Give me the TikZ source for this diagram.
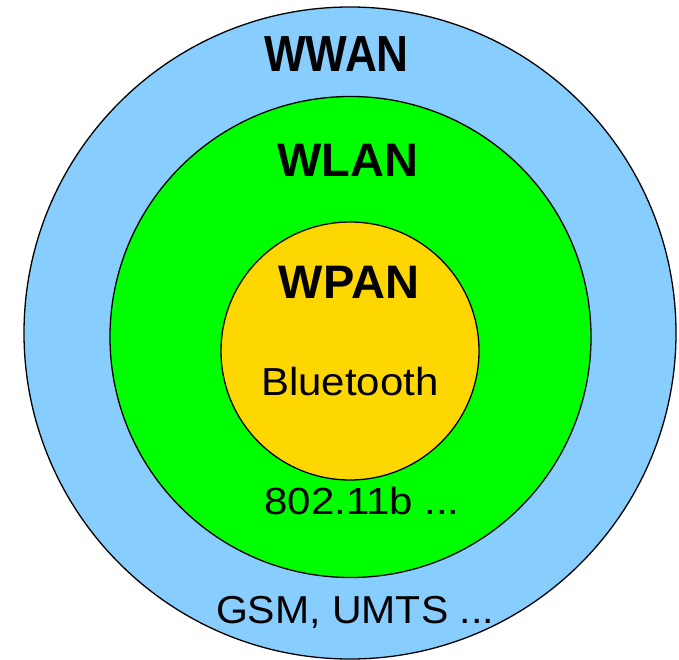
\documentclass[tikz,border=0pt]{standalone}
\usepackage{fontspec}
\setmainfont{Liberation Sans}
\definecolor{wwanblue}{RGB}{135,206,255}
\definecolor{wlangreen}{RGB}{0,255,0}
\definecolor{wpangold}{RGB}{255,215,0}
\tikzset{
  ring/.style={circle, draw=black, line width=1.3pt, inner sep=0pt},
  title/.style={anchor=base, inner sep=0pt, font=\fontsize{47}{47}\selectfont\bfseries},
  tech/.style={anchor=base, inner sep=0pt, font=\fontsize{42}{42}\selectfont}
}
\begin{document}
\begin{tikzpicture}[x=1pt, y=-1pt]
\useasboundingbox (0,0) rectangle (679,660);
\node[ring, fill=wwanblue, minimum size=652pt] (wwan) at (350,333) {};
\node[ring, fill=wlangreen, minimum size=481pt] (wlan) at (350.5,337) {};
\node[ring, fill=wpangold, minimum size=258pt] (wpan) at (350,351) {};
\node[title] (wwanlabel) at (336.5,72) {\scalebox{0.94}[1.08]{WWAN}};
\node[title] (wlanlabel) at (347.5,177) {WLAN};
\node[title] (wpanlabel) at (349,298) {WPAN};
\node[tech] (bt) at (350,395) {\scalebox{1}[0.93]{Bluetooth}};
\node[tech] (wifi) at (362,514) {\scalebox{1}[0.9]{802.11b ...}};
\node[tech] (gsm) at (355,623) {\scalebox{1}[0.95]{\fontsize{41}{41}\selectfont GSM, UMTS ...}};
\end{tikzpicture}
\end{document}
